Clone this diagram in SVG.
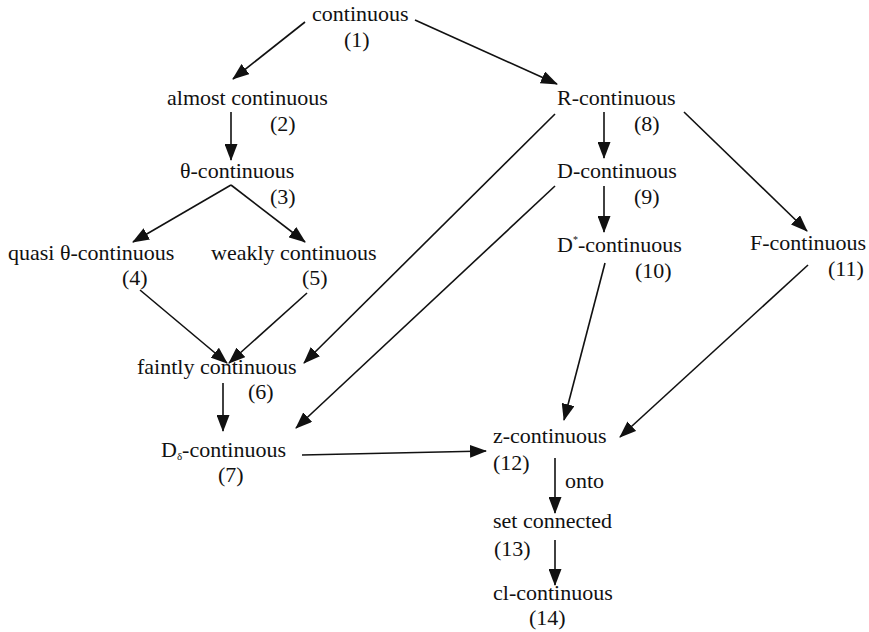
<svg xmlns="http://www.w3.org/2000/svg" width="869" height="632" viewBox="0 0 869 632">
<style>
text{font-family:"Liberation Serif","Times New Roman",serif;font-size:22px;fill:#111}
.e{stroke:#111;stroke-width:1.6;fill:none;marker-end:url(#ah)}
</style>
<defs>
<marker id="ah" markerUnits="userSpaceOnUse" markerWidth="17" markerHeight="13" refX="16" refY="6.5" orient="auto">
<path d="M0,0 L17,6.5 L0,13 Z" fill="#111"/>
</marker>
</defs>
<rect width="869" height="632" fill="#fff"/>
<g id="n1"><text x="312" y="21">continuous</text><text x="344" y="47">(1)</text></g>
<g id="n2"><text x="167" y="105">almost continuous</text><text x="270" y="131">(2)</text></g>
<g id="n3"><text x="180" y="178">θ-continuous</text><text x="270" y="204">(3)</text></g>
<g id="n4"><text x="8" y="260">quasi θ-continuous</text><text x="122" y="285">(4)</text></g>
<g id="n5"><text x="211" y="260">weakly continuous</text><text x="302" y="285">(5)</text></g>
<g id="n6"><text x="137" y="374">faintly continuous</text><text x="248" y="399">(6)</text></g>
<g id="n7"><text x="161" y="457">D<tspan font-size="11" dy="3">δ</tspan><tspan dy="-3">-continuous</tspan></text><text x="218" y="482">(7)</text></g>
<g id="n8"><text x="557" y="105">R-continuous</text><text x="634" y="131">(8)</text></g>
<g id="n9"><text x="557" y="178">D-continuous</text><text x="634" y="204">(9)</text></g>
<g id="n10"><text x="557" y="252">D<tspan font-size="10" dy="-9">*</tspan><tspan dy="9">-continuous</tspan></text><text x="635" y="278">(10)</text></g>
<g id="n11"><text x="750" y="250">F-continuous</text><text x="828" y="276">(11)</text></g>
<g id="n12"><text x="493" y="443">z-continuous</text><text x="493" y="470">(12)</text></g>
<g id="n13"><text x="493" y="528">set connected</text><text x="494" y="556">(13)</text></g>
<g id="n14"><text x="493" y="600">cl-continuous</text><text x="529" y="625">(14)</text></g>
<g id="connectors">
<line class="e" x1="305" y1="22" x2="233" y2="79"/>
<line class="e" x1="415" y1="20" x2="557" y2="84"/>
<line class="e" x1="231" y1="112" x2="231" y2="160"/>
<line class="e" x1="231" y1="185" x2="133" y2="242"/>
<line class="e" x1="231" y1="185" x2="305" y2="242"/>
<line class="e" x1="140" y1="290" x2="227" y2="363"/>
<line class="e" x1="307" y1="293" x2="229" y2="363"/>
<line class="e" x1="555" y1="114" x2="304" y2="363"/>
<line class="e" x1="604" y1="112" x2="604" y2="158"/>
<line class="e" x1="684" y1="112" x2="807" y2="231"/>
<line class="e" x1="604" y1="186" x2="604" y2="232"/>
<line class="e" x1="555" y1="186" x2="296" y2="428"/>
<line class="e" x1="223" y1="383" x2="223" y2="431"/>
<line class="e" x1="302" y1="455" x2="486" y2="451"/>
<line class="e" x1="605" y1="263" x2="564" y2="420"/>
<line class="e" x1="808" y1="265" x2="620" y2="437"/>
<line class="e" x1="555" y1="458" x2="555" y2="513"/>
<line class="e" x1="555" y1="540" x2="555" y2="585"/>
<text x="565" y="488">onto</text>
</g>
</svg>
